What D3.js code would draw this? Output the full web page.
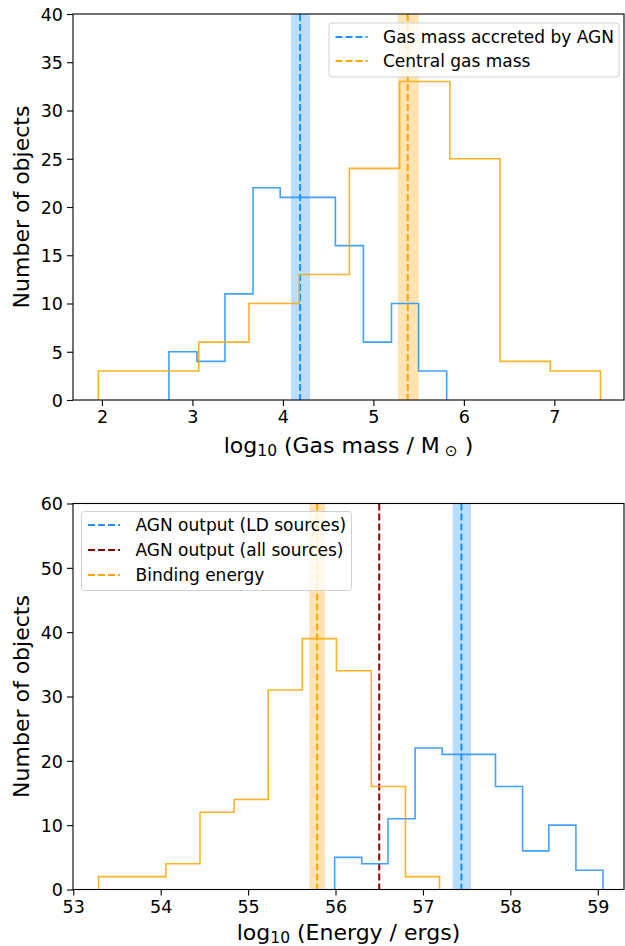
<!DOCTYPE html>
<html>
<head>
<meta charset="utf-8">
<script src="https://cdn.jsdelivr.net/npm/d3@7"></script>
<style>
  html, body { margin: 0; padding: 0; background: #fff; }
  svg { display: block; font-family: "DejaVu Sans", sans-serif; }
</style>
</head>
<body>
<svg id="chart" width="625" height="946"></svg>
<script>
// ---------- DATA ----------
// Top panel: gas mass histograms (log10 Msun)
const massEdgesAGN = [2.74, 3.05, 3.36, 3.67, 3.97, 4.28, 4.58, 4.89, 5.20, 5.50, 5.81];
const massCountsAGN = [5, 4, 11, 22, 21, 21, 16, 6, 10, 3];
const massEdgesCentral = [1.96, 2.515, 3.07, 3.625, 4.18, 4.735, 5.29, 5.845, 6.40, 6.955, 7.51];
const massCountsCentral = [3, 3, 6, 10, 13, 24, 33, 25, 4, 3];
const massMarkers = [
  { label: "Gas mass accreted by AGN", value: 4.19, lo: 4.09, hi: 4.30, color: "#1E90FF", band: "#1E90FF" },
  { label: "Central gas mass", value: 5.38, lo: 5.27, hi: 5.50, color: "#FFA500", band: "#FFA500" }
];
const massXTicks = [2, 3, 4, 5, 6, 7];
const massYTicks = [0, 5, 10, 15, 20, 25, 30, 35, 40];

// Bottom panel: energy histograms (log10 ergs)
const energyEdgesLD = [55.99, 56.30, 56.60, 56.91, 57.22, 57.52, 57.83, 58.14, 58.44, 58.75, 59.06];
const energyCountsLD = [5, 4, 11, 22, 21, 21, 16, 6, 10, 3];
const energyEdgesBinding = [53.29, 53.68, 54.06, 54.45, 54.84, 55.23, 55.62, 56.01, 56.41, 56.80, 57.19];
const energyCountsBinding = [2, 2, 4, 12, 14, 31, 39, 34, 16, 2];
const energyMarkers = [
  { label: "AGN output (LD sources)", value: 57.44, lo: 57.34, hi: 57.55, color: "#1E90FF", band: "#1E90FF" },
  { label: "AGN output (all sources)", value: 56.50, lo: null, hi: null, color: "#8B0000", band: null },
  { label: "Binding energy", value: 55.79, lo: 55.70, hi: 55.88, color: "#FFA500", band: "#FFA500" }
];
const energyXTicks = [53, 54, 55, 56, 57, 58, 59];
const energyYTicks = [0, 10, 20, 30, 40, 50, 60];

// ---------- DRAW ----------
const svg = d3.select("#chart");

function panel(opts) {
  const { top, bottom, left, right, xDomain, yDomain, xTicks, yTicks, hists, markers, legend, xLabel } = opts;
  const x = d3.scaleLinear().domain(xDomain).range([left, right]);
  const y = d3.scaleLinear().domain(yDomain).range([bottom, top]);
  const g = svg.append("g");

  const clipId = "clip" + Math.round(top);
  svg.append("clipPath").attr("id", clipId)
    .append("rect").attr("x", left).attr("y", top).attr("width", right - left).attr("height", bottom - top);
  const plot = g.append("g").attr("clip-path", `url(#${clipId})`);

  // bands
  markers.filter(m => m.band).forEach(m => {
    plot.append("rect")
      .attr("x", x(m.lo)).attr("y", top)
      .attr("width", x(m.hi) - x(m.lo)).attr("height", bottom - top)
      .attr("fill", m.band).attr("fill-opacity", 0.3);
  });
  // dashed lines
  markers.forEach(m => {
    plot.append("line")
      .attr("x1", x(m.value)).attr("x2", x(m.value))
      .attr("y1", top).attr("y2", bottom)
      .attr("stroke", m.color).attr("stroke-width", 2)
      .attr("stroke-dasharray", "7,3");
  });
  // histograms (step)
  const line = d3.line().x(d => x(d[0])).y(d => y(d[1]));
  hists.forEach(h => {
    const pts = [[h.edges[0], 0]];
    h.counts.forEach((c, i) => { pts.push([h.edges[i], c]); pts.push([h.edges[i + 1], c]); });
    pts.push([h.edges[h.edges.length - 1], 0]);
    plot.append("path").attr("d", line(pts))
      .attr("fill", "none").attr("stroke", h.color).attr("stroke-width", 1.6)
      .attr("stroke-opacity", 0.85).attr("stroke-linejoin", "miter");
  });

  // axes
  const xAxis = g.append("g").attr("transform", `translate(0,${bottom})`)
    .call(d3.axisBottom(x).tickValues(xTicks).tickSize(6).tickSizeOuter(0).tickPadding(5).tickFormat(d3.format("d")));
  const yAxis = g.append("g").attr("transform", `translate(${left},0)`)
    .call(d3.axisLeft(y).tickValues(yTicks).tickSize(6).tickSizeOuter(0).tickPadding(4).tickFormat(d3.format("d")));
  [xAxis, yAxis].forEach(a => {
    a.select(".domain").remove();
    a.selectAll("text").attr("font-size", 17.5).attr("fill", "#000").attr("font-family", "DejaVu Sans");
    a.selectAll("line").attr("stroke", "#000").attr("stroke-width", 1.1);
  });
  yAxis.selectAll("text").attr("dy", "0.36em");

  // frame
  g.append("rect").attr("x", left).attr("y", top).attr("width", right - left).attr("height", bottom - top)
    .attr("fill", "none").attr("stroke", "#000").attr("stroke-width", 1.1);

  // y label
  g.append("text")
    .attr("transform", `translate(29,${(top + bottom) / 2}) rotate(-90)`)
    .attr("text-anchor", "middle").attr("font-size", 22).attr("fill", "#000")
    .text("Number of objects");

  // x label
  const xl = g.append("text")
    .attr("x", (left + right) / 2).attr("y", xLabel.y)
    .attr("text-anchor", "middle").attr("font-size", 22).attr("fill", "#000");
  xLabel.parts.forEach(p => {
    const t = xl.append("tspan").text(p.t);
    if (p.sub) t.attr("font-size", 15.5).attr("dy", p.dy);
    if (p.back) t.attr("dy", p.dy);
  });

  // legend
  const lg = g.append("g");
  lg.append("rect").attr("x", legend.x).attr("y", legend.y).attr("width", legend.w).attr("height", legend.h)
    .attr("rx", 3).attr("fill", "#fff").attr("fill-opacity", 0.8)
    .attr("stroke", "#d0d0d0").attr("stroke-width", 1);
  markers.forEach((m, i) => {
    const cy = legend.y + legend.firstRow + i * legend.rowH;
    lg.append("line").attr("x1", legend.x + 6.5).attr("x2", legend.x + 38.5)
      .attr("y1", cy).attr("y2", cy)
      .attr("stroke", m.color).attr("stroke-width", 2).attr("stroke-dasharray", "7,3");
    lg.append("text").attr("x", legend.x + 54).attr("y", cy).attr("dy", "0.36em")
      .attr("font-size", 17).attr("fill", "#000").text(m.label);
  });
}

panel({
  top: 14, bottom: 400, left: 73, right: 624,
  xDomain: [1.68, 7.77], yDomain: [0, 40],
  xTicks: massXTicks, yTicks: massYTicks,
  hists: [
    { edges: massEdgesAGN, counts: massCountsAGN, color: "#1E90FF" },
    { edges: massEdgesCentral, counts: massCountsCentral, color: "#FFA500" }
  ],
  markers: massMarkers,
  legend: { x: 329, y: 23, w: 290, h: 54, firstRow: 14, rowH: 24 },
  xLabel: { y: 453, parts: [
    { t: "log" }, { t: "10", sub: true, dy: 3 }, { t: " (Gas mass / M", back: true, dy: -3 },
    { t: " \u2299", sub: true, dy: 3 }, { t: " )", back: true, dy: -3 }
  ] }
});

panel({
  top: 503.5, bottom: 889.5, left: 73, right: 624,
  xDomain: [52.997, 59.30], yDomain: [0, 60],
  xTicks: energyXTicks, yTicks: energyYTicks,
  hists: [
    { edges: energyEdgesLD, counts: energyCountsLD, color: "#1E90FF" },
    { edges: energyEdgesBinding, counts: energyCountsBinding, color: "#FFA500" }
  ],
  markers: energyMarkers,
  legend: { x: 81.5, y: 511.5, w: 270, h: 79, firstRow: 13.5, rowH: 25 },
  xLabel: { y: 940, parts: [
    { t: "log" }, { t: "10", sub: true, dy: 3 }, { t: " (Energy / ergs)", back: true, dy: -3 }
  ] }
});
</script>
</body>
</html>
